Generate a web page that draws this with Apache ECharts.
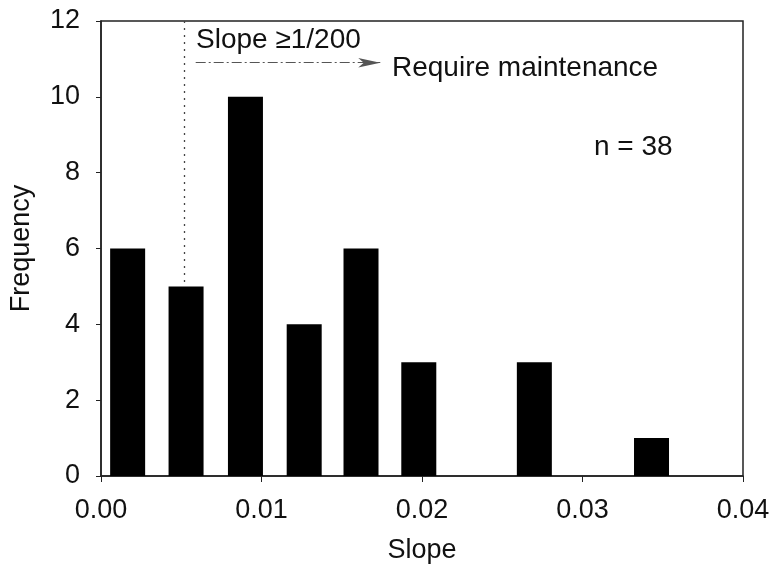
<!DOCTYPE html>
<html>
<head>
<meta charset="utf-8">
<script src="https://cdn.jsdelivr.net/npm/echarts@6/dist/echarts.min.js"></script>
<style>
html, body { margin: 0; padding: 0; background: #fff; }
#chart { width: 775px; height: 575px; }
</style>
</head>
<body>
<div id="chart"></div>
<script>
// bin centres (slope) and counts
var slopeBins = [0.00166, 0.0053, 0.0090, 0.01266, 0.0162, 0.0198, 0.0270, 0.0343];
var counts = [6, 5, 10, 4, 6, 3, 3, 1];
var xTicks = [0, 0.01, 0.02, 0.03, 0.04];
var yTicks = [0, 2, 4, 6, 8, 10, 12];
var threshold = 0.0052; // dotted line drawn at ~1/200

var barData = [];
for (var i = 0; i < slopeBins.length; i++) {
	barData.push([slopeBins[i], counts[i]]);
}

var font = 'Liberation Sans, Arial, sans-serif';
var myChart = echarts.init(document.getElementById('chart'));

var options = {
	animation : false,
	grid : {
		left : 101,
		right : 32,
		top : 21,
		bottom : 99,
		show : true,
		borderColor : '#222',
		borderWidth : 1.5
	},
	xAxis : {
		type : 'value',
		min : xTicks[0],
		max : xTicks[xTicks.length - 1],
		interval : 0.01,
		name : 'Slope',
		nameLocation : 'middle',
		nameGap : 61,
		nameTextStyle : { fontSize : 27, color : '#111', fontFamily : font },
		axisLine : { lineStyle : { color : '#222', width : 1.5 } },
		axisTick : { show : true, inside : false, length : 6, lineStyle : { color : '#222' } },
		axisLabel : {
			fontSize : 27, color : '#111', fontFamily : font, margin : 21,
			formatter : function(v) { return v.toFixed(2); }
		},
		splitLine : { show : false }
	},
	yAxis : {
		type : 'value',
		min : yTicks[0],
		max : yTicks[yTicks.length - 1],
		interval : 2,
		name : 'Frequency',
		nameLocation : 'middle',
		nameGap : 66,
		nameTextStyle : { fontSize : 27, color : '#111', fontFamily : font },
		axisLine : { show : true, lineStyle : { color : '#222', width : 1.5 } },
		axisTick : { show : true, inside : false, length : 5, lineStyle : { color : '#222' } },
		axisLabel : { fontSize : 27, color : '#111', fontFamily : font, margin : 21 },
		splitLine : { show : false }
	},
	series : [ {
		type : 'bar',
		data : barData,
		barWidth : 35,
		itemStyle : { color : '#000' },
		markLine : {
			silent : true,
			symbol : 'none',
			label : { show : false },
			data : [
				[ { coord : [threshold, 12], lineStyle : { type : [2, 5], color : '#444', width : 1.3 } },
				  { coord : [threshold, 5] } ],
				[ { coord : [0.0059, 10.9], symbol : 'none',
				    lineStyle : { type : [10, 3, 2, 3], color : '#555', width : 1.2 } },
				  { coord : [0.0174, 10.9], symbol : 'arrow', symbolSize : [7, 22] } ]
			]
		}
	} ],
	graphic : [
		{ type : 'text', left : 196, top : 26,
		  style : { text : 'Slope ≥1/200', fontSize : 28, fill : '#111', fontFamily : font } },
		{ type : 'text', left : 392, top : 54,
		  style : { text : 'Require maintenance', fontSize : 28, fill : '#111', fontFamily : font } },
		{ type : 'text', left : 594, top : 133,
		  style : { text : 'n = 38', fontSize : 28, fill : '#111', fontFamily : font } }
	]
};
myChart.setOption(options);
</script>
</body>
</html>
